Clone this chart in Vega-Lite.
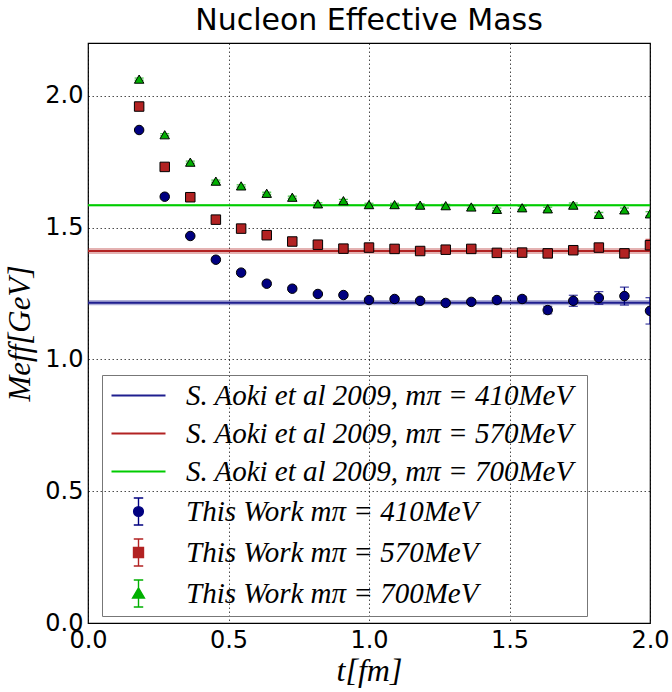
{
  "$schema": "https://vega.github.io/schema/vega-lite/v6.json",
  "width": 562,
  "height": 580,
  "autosize": {"type": "none"},
  "padding": {"left": 88, "top": 43, "right": 22, "bottom": 69},
  "background": "white",
  "title": {"text": "Nucleon Effective Mass", "font": "DejaVu Sans", "fontSize": 30, "fontWeight": "normal", "color": "black", "offset": 7},
  "config": {
    "view": {"stroke": "black", "strokeWidth": 1.2},
    "axis": {
      "domain": false, "ticks": false, "tickSize": 0,
      "grid": true, "gridColor": "black", "gridDash": [1.5, 2.5], "gridOpacity": 0.7, "gridWidth": 1,
      "labelFont": "DejaVu Sans", "labelFontSize": 24, "labelColor": "black",
      "titleFont": "Liberation Serif", "titleFontStyle": "italic", "titleFontWeight": "normal", "titleColor": "black"
    },
    "axisX": {"labelPadding": 5, "titlePadding": 3, "titleFontSize": 32, "labelFlush": false},
    "axisY": {"labelPadding": 5, "titlePadding": 8, "titleFontSize": 31, "labelFlush": false}
  },
  "datasets": {
    "aoki": [
      {"series": "S. Aoki et al 2009,  mπ = 410MeV", "mass": 1.215, "lo": 1.205, "hi": 1.225},
      {"series": "S. Aoki et al 2009,  mπ = 570MeV", "mass": 1.411, "lo": 1.400, "hi": 1.422},
      {"series": "S. Aoki et al 2009,  mπ = 700MeV", "mass": 1.585, "lo": 1.581, "hi": 1.589}
    ],
    "work": [
      {"series": "This Work mπ = 410MeV", "t": 0.182, "m": 1.870, "err": 0.003},
      {"series": "This Work mπ = 410MeV", "t": 0.273, "m": 1.617, "err": 0.003},
      {"series": "This Work mπ = 410MeV", "t": 0.364, "m": 1.468, "err": 0.003},
      {"series": "This Work mπ = 410MeV", "t": 0.455, "m": 1.378, "err": 0.004},
      {"series": "This Work mπ = 410MeV", "t": 0.545, "m": 1.329, "err": 0.004},
      {"series": "This Work mπ = 410MeV", "t": 0.636, "m": 1.287, "err": 0.004},
      {"series": "This Work mπ = 410MeV", "t": 0.727, "m": 1.268, "err": 0.005},
      {"series": "This Work mπ = 410MeV", "t": 0.818, "m": 1.248, "err": 0.005},
      {"series": "This Work mπ = 410MeV", "t": 0.909, "m": 1.244, "err": 0.006},
      {"series": "This Work mπ = 410MeV", "t": 1.0, "m": 1.225, "err": 0.006},
      {"series": "This Work mπ = 410MeV", "t": 1.091, "m": 1.229, "err": 0.007},
      {"series": "This Work mπ = 410MeV", "t": 1.182, "m": 1.222, "err": 0.007},
      {"series": "This Work mπ = 410MeV", "t": 1.273, "m": 1.214, "err": 0.008},
      {"series": "This Work mπ = 410MeV", "t": 1.364, "m": 1.218, "err": 0.008},
      {"series": "This Work mπ = 410MeV", "t": 1.455, "m": 1.225, "err": 0.009},
      {"series": "This Work mπ = 410MeV", "t": 1.545, "m": 1.229, "err": 0.010},
      {"series": "This Work mπ = 410MeV", "t": 1.636, "m": 1.187, "err": 0.014},
      {"series": "This Work mπ = 410MeV", "t": 1.727, "m": 1.222, "err": 0.021},
      {"series": "This Work mπ = 410MeV", "t": 1.818, "m": 1.233, "err": 0.024},
      {"series": "This Work mπ = 410MeV", "t": 1.909, "m": 1.240, "err": 0.034},
      {"series": "This Work mπ = 410MeV", "t": 2.0, "m": 1.184, "err": 0.050},
      {"series": "This Work mπ = 570MeV", "t": 0.182, "m": 1.959, "err": 0.002},
      {"series": "This Work mπ = 570MeV", "t": 0.273, "m": 1.730, "err": 0.002},
      {"series": "This Work mπ = 570MeV", "t": 0.364, "m": 1.615, "err": 0.003},
      {"series": "This Work mπ = 570MeV", "t": 0.455, "m": 1.530, "err": 0.003},
      {"series": "This Work mπ = 570MeV", "t": 0.545, "m": 1.496, "err": 0.003},
      {"series": "This Work mπ = 570MeV", "t": 0.636, "m": 1.471, "err": 0.004},
      {"series": "This Work mπ = 570MeV", "t": 0.727, "m": 1.447, "err": 0.004},
      {"series": "This Work mπ = 570MeV", "t": 0.818, "m": 1.435, "err": 0.004},
      {"series": "This Work mπ = 570MeV", "t": 0.909, "m": 1.420, "err": 0.005},
      {"series": "This Work mπ = 570MeV", "t": 1.0, "m": 1.424, "err": 0.005},
      {"series": "This Work mπ = 570MeV", "t": 1.091, "m": 1.419, "err": 0.005},
      {"series": "This Work mπ = 570MeV", "t": 1.182, "m": 1.411, "err": 0.006},
      {"series": "This Work mπ = 570MeV", "t": 1.273, "m": 1.416, "err": 0.006},
      {"series": "This Work mπ = 570MeV", "t": 1.364, "m": 1.419, "err": 0.006},
      {"series": "This Work mπ = 570MeV", "t": 1.455, "m": 1.404, "err": 0.007},
      {"series": "This Work mπ = 570MeV", "t": 1.545, "m": 1.405, "err": 0.007},
      {"series": "This Work mπ = 570MeV", "t": 1.636, "m": 1.402, "err": 0.008},
      {"series": "This Work mπ = 570MeV", "t": 1.727, "m": 1.414, "err": 0.009},
      {"series": "This Work mπ = 570MeV", "t": 1.818, "m": 1.424, "err": 0.012},
      {"series": "This Work mπ = 570MeV", "t": 1.909, "m": 1.402, "err": 0.011},
      {"series": "This Work mπ = 570MeV", "t": 2.0, "m": 1.433, "err": 0.022},
      {"series": "This Work mπ = 700MeV", "t": 0.182, "m": 2.063, "err": 0.004},
      {"series": "This Work mπ = 700MeV", "t": 0.273, "m": 1.852, "err": 0.004},
      {"series": "This Work mπ = 700MeV", "t": 0.364, "m": 1.748, "err": 0.004},
      {"series": "This Work mπ = 700MeV", "t": 0.455, "m": 1.676, "err": 0.004},
      {"series": "This Work mπ = 700MeV", "t": 0.545, "m": 1.658, "err": 0.004},
      {"series": "This Work mπ = 700MeV", "t": 0.636, "m": 1.630, "err": 0.004},
      {"series": "This Work mπ = 700MeV", "t": 0.727, "m": 1.615, "err": 0.004},
      {"series": "This Work mπ = 700MeV", "t": 0.818, "m": 1.590, "err": 0.004},
      {"series": "This Work mπ = 700MeV", "t": 0.909, "m": 1.602, "err": 0.005},
      {"series": "This Work mπ = 700MeV", "t": 1.0, "m": 1.587, "err": 0.005},
      {"series": "This Work mπ = 700MeV", "t": 1.091, "m": 1.587, "err": 0.005},
      {"series": "This Work mπ = 700MeV", "t": 1.182, "m": 1.585, "err": 0.005},
      {"series": "This Work mπ = 700MeV", "t": 1.273, "m": 1.583, "err": 0.005},
      {"series": "This Work mπ = 700MeV", "t": 1.364, "m": 1.578, "err": 0.005},
      {"series": "This Work mπ = 700MeV", "t": 1.455, "m": 1.569, "err": 0.005},
      {"series": "This Work mπ = 700MeV", "t": 1.545, "m": 1.575, "err": 0.006},
      {"series": "This Work mπ = 700MeV", "t": 1.636, "m": 1.571, "err": 0.006},
      {"series": "This Work mπ = 700MeV", "t": 1.727, "m": 1.585, "err": 0.008},
      {"series": "This Work mπ = 700MeV", "t": 1.818, "m": 1.550, "err": 0.007},
      {"series": "This Work mπ = 700MeV", "t": 1.909, "m": 1.567, "err": 0.007},
      {"series": "This Work mπ = 700MeV", "t": 2.0, "m": 1.552, "err": 0.008}
    ]
  },
  "encoding": {
    "color": {
      "field": "series", "type": "nominal",
      "scale": {
        "domain": ["S. Aoki et al 2009,  mπ = 410MeV", "S. Aoki et al 2009,  mπ = 570MeV", "S. Aoki et al 2009,  mπ = 700MeV", "This Work mπ = 410MeV", "This Work mπ = 570MeV", "This Work mπ = 700MeV"],
        "range": ["#1f1f8f", "#b22222", "#00cc00", "#000080", "#b22222", "#00b000"]
      },
      "legend": {
        "title": null,
        "orient": "none", "legendX": 14, "legendY": 332,
        "padding": 6, "strokeColor": "#777777", "fillColor": null,
        "symbolSize": 729, "symbolOffset": 16, "labelOffset": 33, "rowPadding": 8,
        "labelFont": "Liberation Serif", "labelFontStyle": "italic", "labelFontSize": 29, "labelColor": "black", "labelLimit": 700,
        "encode": {
          "symbols": {
            "update": {
              "shape": {"signal": "datum.index < 3 ? 'M-2,0H2' : datum.index == 3 ? 'M0,-1V1M-0.35,-1H0.35M-0.35,1H0.35M-0.36,0A0.36,0.36 0 1,0 0.36,0A0.36,0.36 0 1,0 -0.36,0Z' : datum.index == 4 ? 'M0,-1V1M-0.35,-1H0.35M-0.35,1H0.35M-0.37,-0.37H0.37V0.37H-0.37Z' : 'M0,-1V1M-0.35,-1H0.35M-0.35,1H0.35M0,-0.42L0.44,0.34L-0.44,0.34Z'"},
              "fill": {"signal": "scale('color', datum.value)"},
              "stroke": {"signal": "scale('color', datum.value)"},
              "strokeWidth": {"signal": "datum.index < 3 ? 2 : 1.4"},
              "size": {"value": 729},
              "opacity": {"value": 1}
            }
          }
        }
      }
    }
  },
  "layer": [
    {
      "data": {"name": "aoki"},
      "mark": {"type": "rect", "opacity": 0.35, "clip": true},
      "encoding": {
        "y": {"field": "lo", "type": "quantitative", "scale": {"domain": [0, 2.2], "nice": false, "zero": false}, "title": "Meff[GeV]", "axis": {"values": [0, 0.5, 1, 1.5, 2], "format": ".1f"}},
        "y2": {"field": "hi"}
      }
    },
    {
      "data": {"name": "aoki"},
      "mark": {"type": "rule", "strokeWidth": 2, "clip": true},
      "encoding": {
        "y": {"field": "mass", "type": "quantitative", "scale": {"domain": [0, 2.2], "nice": false, "zero": false}, "title": "Meff[GeV]", "axis": {"values": [0, 0.5, 1, 1.5, 2], "format": ".1f"}}
      }
    },
    {
      "data": {"name": "work"},
      "mark": {"type": "errorbar", "ticks": {"size": 9, "thickness": 1.3}, "rule": {"strokeWidth": 1.3}, "clip": true},
      "encoding": {
        "x": {"field": "t", "type": "quantitative", "scale": {"domain": [0, 2], "nice": false, "zero": false}, "title": "t[fm]", "axis": {"values": [0, 0.5, 1, 1.5, 2], "format": ".1f"}},
        "y": {"field": "m", "type": "quantitative", "scale": {"domain": [0, 2.2], "nice": false, "zero": false}, "title": "Meff[GeV]", "axis": {"values": [0, 0.5, 1, 1.5, 2], "format": ".1f"}},
        "yError": {"field": "err"}
      }
    },
    {
      "data": {"name": "work"},
      "mark": {"type": "point", "filled": true, "stroke": "black", "strokeWidth": 1, "size": 90, "opacity": 1, "clip": true},
      "encoding": {
        "x": {"field": "t", "type": "quantitative", "scale": {"domain": [0, 2], "nice": false, "zero": false}, "title": "t[fm]", "axis": {"values": [0, 0.5, 1, 1.5, 2], "format": ".1f"}},
        "y": {"field": "m", "type": "quantitative", "scale": {"domain": [0, 2.2], "nice": false, "zero": false}, "title": "Meff[GeV]", "axis": {"values": [0, 0.5, 1, 1.5, 2], "format": ".1f"}},
        "shape": {"field": "series", "type": "nominal", "scale": {"domain": ["This Work mπ = 410MeV", "This Work mπ = 570MeV", "This Work mπ = 700MeV"], "range": ["circle", "square", "triangle-up"]}, "legend": null}
      }
    }
  ]
}
